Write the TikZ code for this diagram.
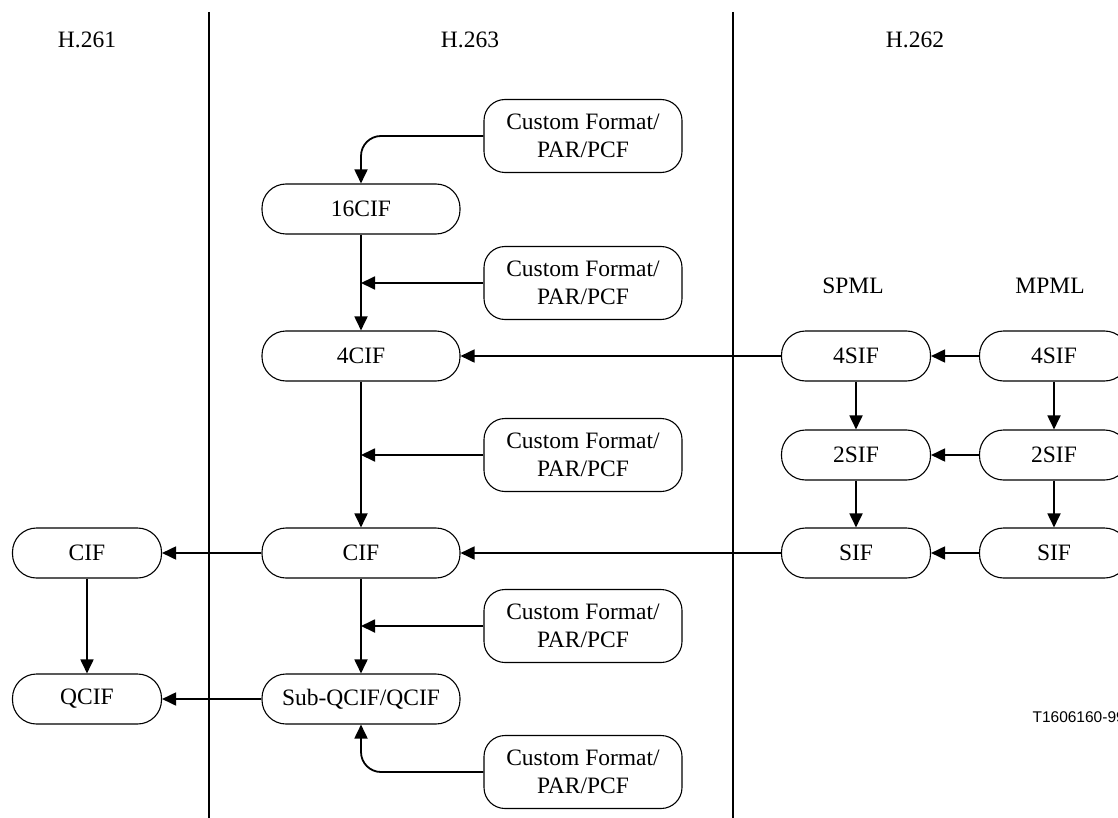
\documentclass[tikz,border=0pt]{standalone}
\usepackage{fontspec}
\setmainfont{Liberation Serif}
\newfontfamily\labelsans{Liberation Sans}
\usetikzlibrary{arrows.meta,calc}
\begin{document}
\begin{tikzpicture}[x=1pt,y=-1pt,
  every node/.style={font=\fontsize{23.5}{28}\selectfont},
  pill/.style={draw,line width=1.1pt,rounded corners=24pt,minimum height=50pt,inner sep=0pt},
  narrowpill/.style={pill,minimum width=149pt},
  widepill/.style={pill,minimum width=198pt},
  custombox/.style={draw,line width=1.1pt,rounded corners=21pt,minimum width=198pt,minimum height=73pt,align=center,inner sep=0pt},
  conn/.style={line width=1.8pt,-{Triangle[length=14pt,width=13pt]}},
  sep/.style={line width=2.8pt}]
\useasboundingbox (0,0) rectangle (1118,818);
% separators
\coordinate (s1t) at (209,12); \coordinate (s1b) at (209,818);
\coordinate (s2t) at (733,12); \coordinate (s2b) at (733,818);
\draw[sep] (s1t) -- (s1b);
\draw[sep] (s2t) -- (s2b);
% headers
\node (h261) at (87,40) {H.261};
\node (h263) at (470,40) {H.263};
\node (h262) at (915,40) {H.262};
\node (spml) at (853,286) {SPML};
\node (mpml) at (1050,286) {MPML};
% H.263 column
\node[widepill] (cif16) at (361,209) {16CIF};
\node[widepill] (cif4) at (361,356) {4CIF};
\node[widepill] (cif) at (361,553) {CIF};
\node[widepill] (sqcif) at (361,699) {Sub-QCIF/QCIF};
\node[custombox] (c1) at (583,136) {Custom Format/\\PAR/PCF};
\node[custombox] (c2) at (583,283) {Custom Format/\\PAR/PCF};
\node[custombox] (c3) at (583,455) {Custom Format/\\PAR/PCF};
\node[custombox] (c4) at (583,626) {Custom Format/\\PAR/PCF};
\node[custombox] (c5) at (583,772) {Custom Format/\\PAR/PCF};
% H.261 column
\node[narrowpill] (hcif) at (87,553) {CIF};
\node[narrowpill] (hqcif) at (87,699) {QCIF};
% H.262 columns
\node[narrowpill] (sp4) at (856,356) {4SIF};
\node[narrowpill] (sp2) at (856,455) {2SIF};
\node[narrowpill] (sp1) at (856,553) {SIF};
\node[narrowpill] (mp4) at (1054,356) {4SIF};
\node[narrowpill] (mp2) at (1054,455) {2SIF};
\node[narrowpill] (mp1) at (1054,553) {SIF};
% label
\node[font=\labelsans\fontsize{15.5}{18}\selectfont,anchor=west] (tag) at (1029,717) {T1606160-99};
% H.263 verticals
\draw[conn] (cif16) -- (cif4);
\draw[conn] (cif4) -- (cif);
\draw[conn] (cif) -- (sqcif);
\coordinate (j2) at (cif16.south |- c2.west);
\coordinate (j3) at (cif16.south |- c3.west);
\coordinate (j4) at (cif16.south |- c4.west);
\draw[conn] (c2.west) -- (j2);
\draw[conn] (c3.west) -- (j3);
\draw[conn] (c4.west) -- (j4);
\draw[conn,rounded corners=20pt] (c1.west) -| (cif16.north);
\draw[conn,rounded corners=20pt] (c5.west) -| (sqcif.south);
% cross-standard
\draw[conn] (cif) -- (hcif);
\draw[conn] (sqcif) -- (hqcif);
\draw[conn] (hcif) -- (hqcif);
\draw[conn] (sp4) -- (cif4);
\draw[conn] (sp1) -- (cif);
\draw[conn] (mp4) -- (sp4);
\draw[conn] (mp2) -- (sp2);
\draw[conn] (mp1) -- (sp1);
\draw[conn] (sp4) -- (sp2);
\draw[conn] (sp2) -- (sp1);
\draw[conn] (mp4) -- (mp2);
\draw[conn] (mp2) -- (mp1);
\end{tikzpicture}
\end{document}
